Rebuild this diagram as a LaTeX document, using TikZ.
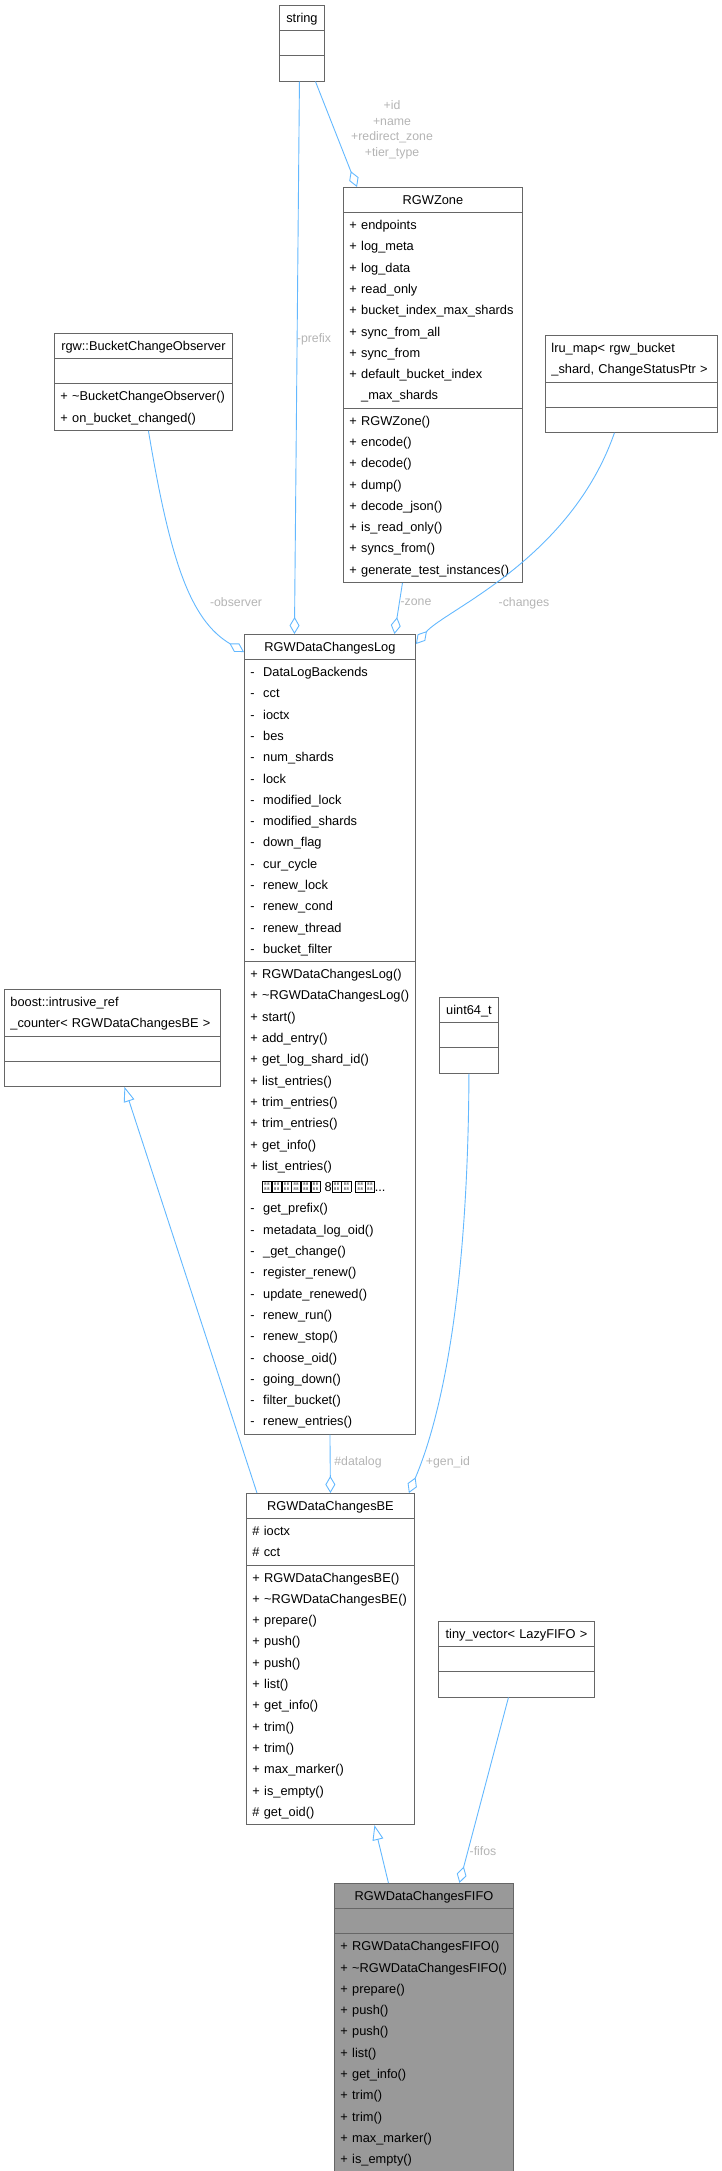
\documentclass[tikz,border=0pt]{standalone}
\usepackage{fontspec}
\setmainfont{Liberation Sans}
\usetikzlibrary{arrows.meta,positioning,calc,shapes.multipart}
\definecolor{edgeblue}{HTML}{63B8FF}
\definecolor{lblgray}{HTML}{B4B4B4}
\definecolor{boxgray}{HTML}{666666}
\definecolor{fifogray}{HTML}{999999}
\newcommand\ctitle[1]{\hfill#1\hfill\strut}
\newcommand\tofu{\raisebox{-0.5pt}{\setlength\fboxsep{0pt}\setlength\fboxrule{0.6pt}\fbox{\parbox[b][10.5pt][c]{8.5pt}{\centering\fontsize{4}{5}\selectfont 8\,8\\8\,8}}}}

\begin{document}
\begin{tikzpicture}[x=1pt,y=-1pt,
    umlclass/.style={
        rectangle split, rectangle split parts=3, draw=boxgray,
        line width=0.9pt, fill=white, anchor=north west,
        inner xsep=6pt, inner ysep=1.5pt, align=left,
        font=\fontsize{12.8}{21.3}\selectfont
    },
    current/.style={umlclass, fill=fifogray},
    aggr/.style={-{Diamond[open,length=17pt,width=10pt]}, edgeblue, line width=0.9pt},
    inherit/.style={-{Triangle[open,length=15pt,width=11pt]}, edgeblue, line width=0.9pt},
    role/.style={text=lblgray, font=\fontsize{12.3}{15.6}\selectfont, inner sep=0pt, align=center}
]
\useasboundingbox (0,0) rectangle (722,2171);

% classes
\node[umlclass, text width=33pt] (str) at (279,5) {\ctitle{string}
  \nodepart{two}\strut\nodepart{three}\strut};

\node[umlclass, text width=167pt] (zone) at (343,187) {\ctitle{RGWZone}
  \nodepart{two}\strut+~endpoints\\\strut+~log\_meta\\\strut+~log\_data\\\strut+~read\_only\\
  \strut+~bucket\_index\_max\_shards\\\strut+~sync\_from\_all\\\strut+~sync\_from\\
  \strut+~default\_bucket\_index\\\strut\phantom{+}~\_max\_shards
  \nodepart{three}\strut+~RGWZone()\\\strut+~encode()\\\strut+~decode()\\\strut+~dump()\\
  \strut+~decode\_json()\\\strut+~is\_read\_only()\\\strut+~syncs\_from()\\
  \strut+~generate\_test\_instances()};

\node[umlclass, text width=166pt] (observer) at (54,333) {\ctitle{rgw::BucketChangeObserver}
  \nodepart{two}\strut
  \nodepart{three}\strut+~\textasciitilde BucketChangeObserver()\\\strut+~on\_bucket\_changed()};

\node[umlclass, text width=160pt] (changes) at (545,335) {\strut lru\_map<~rgw\_bucket\\\strut\_shard,~ChangeStatusPtr~>
  \nodepart{two}\strut\nodepart{three}\strut};

\node[umlclass, text width=159pt] (dlog) at (244,634) {\ctitle{RGWDataChangesLog}
  \nodepart{two}\strut-~~DataLogBackends\\\strut-~~cct\\\strut-~~ioctx\\\strut-~~bes\\
  \strut-~~num\_shards\\\strut-~~lock\\\strut-~~modified\_lock\\\strut-~~modified\_shards\\
  \strut-~~down\_flag\\\strut-~~cur\_cycle\\\strut-~~renew\_lock\\\strut-~~renew\_cond\\
  \strut-~~renew\_thread\\\strut-~~bucket\_filter
  \nodepart{three}\strut+~RGWDataChangesLog()\\\strut+~\textasciitilde RGWDataChangesLog()\\
  \strut+~start()\\\strut+~add\_entry()\\\strut+~get\_log\_shard\_id()\\\strut+~list\_entries()\\
  \strut+~trim\_entries()\\\strut+~trim\_entries()\\\strut+~get\_info()\\\strut+~list\_entries()\\
  \strut\phantom{+}~\tofu\tofu\tofu\tofu\tofu\tofu~8\tofu\tofu~\tofu\tofu...\\
  \strut-~~get\_prefix()\\\strut-~~metadata\_log\_oid()\\\strut-~~\_get\_change()\\
  \strut-~~register\_renew()\\\strut-~~update\_renewed()\\\strut-~~renew\_run()\\
  \strut-~~renew\_stop()\\\strut-~~choose\_oid()\\\strut-~~going\_down()\\
  \strut-~~filter\_bucket()\\\strut-~~renew\_entries()};

\node[umlclass, text width=204pt] (refcnt) at (4,989) {\strut boost::intrusive\_ref\\\strut\_counter<~RGWDataChangesBE~>
  \nodepart{two}\strut\nodepart{three}\strut};

\node[umlclass, text width=47pt] (genid) at (439,997) {\ctitle{uint64\_t}
  \nodepart{two}\strut\nodepart{three}\strut};

\node[umlclass, text width=156pt] (dbe) at (246,1493) {\ctitle{RGWDataChangesBE}
  \nodepart{two}\strut\#~ioctx\\\strut\#~cct
  \nodepart{three}\strut+~RGWDataChangesBE()\\\strut+~\textasciitilde RGWDataChangesBE()\\
  \strut+~prepare()\\\strut+~push()\\\strut+~push()\\\strut+~list()\\\strut+~get\_info()\\
  \strut+~trim()\\\strut+~trim()\\\strut+~max\_marker()\\\strut+~is\_empty()\\\strut\#~get\_oid()};

\node[umlclass, text width=144pt] (tinyvec) at (438,1621) {\ctitle{tiny\_vector<~LazyFIFO~>}
  \nodepart{two}\strut\nodepart{three}\strut};

\node[current, text width=167pt] (fifo) at (334,1883) {\ctitle{RGWDataChangesFIFO}
  \nodepart{two}\strut
  \nodepart{three}\strut+~RGWDataChangesFIFO()\\\strut+~\textasciitilde RGWDataChangesFIFO()\\
  \strut+~prepare()\\\strut+~push()\\\strut+~push()\\\strut+~list()\\\strut+~get\_info()\\
  \strut+~trim()\\\strut+~trim()\\\strut+~max\_marker()\\\strut+~is\_empty()};

% members
\draw[aggr] ([xshift=13.5pt]str.south) -- ([xshift=14pt]zone.north west);
\node[role] (lbl-zoneids) at (392,130) {+id\\+name\\+redirect\_zone\\+tier\_type};

\draw[aggr] ([xshift=-2.5pt]str.south) -- ([xshift=-35.5pt]dlog.north);
\node[role] (lbl-prefix) at (314,339) {-prefix};

\draw[aggr] ([xshift=5pt]observer.south) .. controls (170,560) and (190,620) .. ([yshift=-18pt]dlog.north west);
\node[role] (lbl-observer) at (236,602) {-observer};

\draw[aggr] ([xshift=-30.5pt]zone.south) -- ([xshift=64.5pt]dlog.north);
\node[role] (lbl-zone) at (416,602) {-zone};

\draw[aggr] ([xshift=-17pt]changes.south) .. controls (570,560) and (445,610) .. ([yshift=-10pt]dlog.north east);
\node[role] (lbl-changes) at (524,603) {-changes};

\draw[aggr] (dlog.south) -- (dbe.north);
\node[role] (lbl-datalog) at (358,1462) {\#datalog};

\draw[aggr] (genid.south) .. controls (468,1300) and (440,1420) .. ([xshift=-6pt]dbe.north east);
\node[role] (lbl-genid) at (448,1462) {+gen\_id};

\draw[aggr] ([xshift=-8pt]tinyvec.south) -- ([xshift=35.5pt]fifo.north);
\node[role] (lbl-fifos) at (483,1851) {-fifos};

% inheritance
\draw[inherit] ([xshift=11pt]dbe.north west) -- ([xshift=12pt]refcnt.south);
\draw[inherit] ([xshift=-35.5pt]fifo.north) -- ([xshift=44pt]dbe.south);

\end{tikzpicture}
\end{document}
